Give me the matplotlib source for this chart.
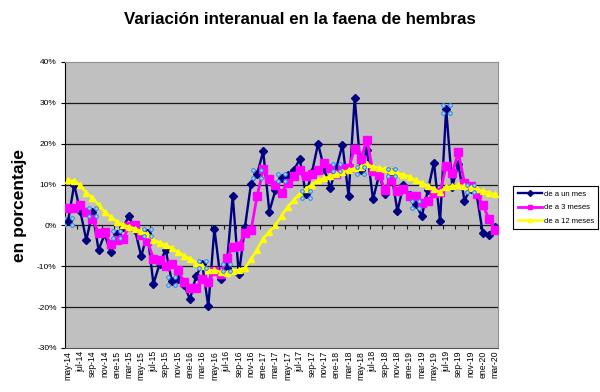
import matplotlib
matplotlib.use("Agg")
import matplotlib.pyplot as plt
from matplotlib.transforms import offset_copy

plt.rcParams['font.family'] = ['Liberation Sans', 'DejaVu Sans']

# Variacion interanual (%), mensual desde may-14 hasta mar-20
un_mes = [1.0, 10.0, 3.5, -3.6, 3.3, -6.0, -2.2, -6.6, -2.2, -0.5,
          2.3, -1.2, -7.6, -1.8, -14.3, -9.5, -5.9, -13.6, -13.2, -14.6,
          -18.0, -12.4, -9.5, -19.8, -0.8, -13.0, -10.3, 7.3, -12.0, -0.5,
          10.2, 12.6, 18.1, 3.4, 8.6, 11.7, 12.4, 13.5, 16.2, 7.6,
          13.0, 20.0, 13.8, 9.2, 14.1, 19.8, 7.2, 31.3, 13.5, 18.5,
          6.4, 12.3, 7.8, 13.0, 3.5, 9.8, 7.4, 5.2, 2.3, 8.6,
          15.4, 1.0, 28.5, 9.5, 15.0, 6.1, 9.0, 7.5, -1.8, -2.4, -0.3]

tres_meses = [4.3, 4.3, 5.1, 3.3, 1.5, -1.8, -1.5, -4.6, -3.6, -3.4,
              -0.2, 0.0, -2.4, -3.8, -8.1, -8.5, -9.9, -9.5, -11.0, -13.8,
              -15.2, -15.2, -13.2, -13.8, -11.1, -12.0, -7.9, -5.4, -5.0, -1.8,
              -1.2, 7.2, 13.7, 11.4, 10.0, 8.0, 10.5, 12.0, 13.5, 12.0,
              12.5, 13.5, 15.2, 14.0, 12.5, 14.0, 14.0, 18.8, 16.2, 21.0,
              13.2, 12.4, 8.7, 11.0, 8.4, 8.8, 7.2, 7.2, 5.4, 6.0,
              8.0, 8.2, 14.5, 12.8, 17.9, 10.4, 9.6, 7.6, 5.1, 1.6, -1.2]

doce_meses = [11.0, 10.9, 9.8, 8.0, 6.8, 5.0, 3.3, 2.1, 0.9, 0.1,
              -0.3, -0.8, -1.4, -2.2, -3.6, -4.2, -4.8, -5.6, -6.5, -7.4,
              -8.1, -9.1, -9.9, -11.0, -10.9, -11.4, -11.6, -11.1, -10.9, -10.4,
              -8.3, -5.9, -3.2, -1.5, 0.0, 2.4, 4.5, 6.2, 7.8, 9.0,
              10.0, 11.0, 11.5, 12.0, 12.5, 13.0, 13.5, 14.0, 14.4, 15.0,
              14.3, 14.1, 13.7, 13.3, 12.8, 12.4, 11.9, 11.0, 10.4, 9.6,
              8.8, 8.2, 9.4, 9.6, 9.8, 9.6, 9.2, 8.8, 8.4, 8.0, 7.6]

# puntos seleccionados (marcas azules de Excel)
seleccionados = [0, 4, 8, 13, 17, 22, 26, 31, 35, 39, 44, 48, 53, 57, 62, 66]

abrev = ['ene', 'feb', 'mar', 'abr', 'may', 'jun',
         'jul', 'ago', 'sep', 'oct', 'nov', 'dic']
meses = []
for k in range(len(un_mes)):
    m = (4 + k) % 12
    a = 14 + (4 + k) // 12
    meses.append(f'{abrev[m]}-{a:02d}')

x = list(range(len(un_mes)))

fig = plt.figure(figsize=(6, 3.92), dpi=100)
ax = fig.add_axes([65/600, 1 - 348/392, 433/600, 286/392])
ax.set_facecolor('#c0c0c0')

ax.plot(x, un_mes, color='#000080', lw=1.7, marker='D', ms=4,
        label='de a un mes', zorder=3)
ax.plot(x, tres_meses, color='#ff00ff', lw=2.0, marker='s', ms=5.2,
        label='de a 3 meses', zorder=4)
ax.plot(x, doce_meses, color='#ffff00', lw=1.8, marker='^', ms=4.5,
        label='de a 12 meses', zorder=5)

# circulitos de seleccion
sx = [x[i] for i in seleccionados]
sy = [un_mes[i] for i in seleccionados]
for dx, dy in [(-2.6, -2.6), (-2.6, 2.6), (2.6, -2.6), (2.6, 2.6)]:
    tr = offset_copy(ax.transData, fig=fig, x=dx, y=dy, units='points')
    ax.plot(sx, sy, ls='none', marker='o', ms=2.6, mfc='#a8d8ff',
            mec='#2a7fe0', mew=0.7, transform=tr, zorder=6)

ax.set_xlim(-0.5, len(x) - 0.5)
ax.set_ylim(-30, 40)
yt = list(range(-30, 41, 10))
ax.set_yticks(yt)
ax.set_yticklabels([f'{v}%' for v in yt], fontsize=6)
ax.set_xticks(x[::2])
ax.set_xticklabels(meses[::2], rotation=90, fontsize=6.2, va='top')
ax.tick_params(axis='x', length=0, pad=2)
ax.tick_params(axis='y', length=3, width=0.8, pad=3)

for v in range(-20, 40, 10):
    ax.axhline(v, color='#1a1a1a', lw=0.9, zorder=1)

# marcas del eje de categorias sobre 0%
bordes = [b - 0.5 for b in range(0, len(x) + 1, 2)]
ax.plot(bordes, [0] * len(bordes), ls='none', marker=3, ms=3,
        mew=0.8, color='#1a1a1a', zorder=2)

ax.spines['left'].set_color('black')
ax.spines['bottom'].set_color('#555555')
ax.spines['top'].set_color('#909090')
ax.spines['right'].set_color('#909090')

fig.text(0.5, 1 - 20/392, 'Variación interanual en la faena de hembras',
         ha='center', va='center', fontsize=12.2, fontweight='bold')
fig.text(20/600, 1 - 206/392, 'en porcentaje', rotation=90,
         ha='center', va='center', fontsize=12.5, fontweight='bold')

leg = fig.legend(loc='upper left', bbox_to_anchor=(513/600, 1 - 186/392),
                 fontsize=5.5, frameon=True, fancybox=False,
                 edgecolor='black', framealpha=1, handlelength=3.2,
                 handletextpad=0.2, labelspacing=0.8, borderpad=0.6,
                 borderaxespad=0)
leg.get_frame().set_linewidth(0.8)
for h in leg.legend_handles:
    h.set_markersize(3)

fig.savefig('out.png', dpi=100)
